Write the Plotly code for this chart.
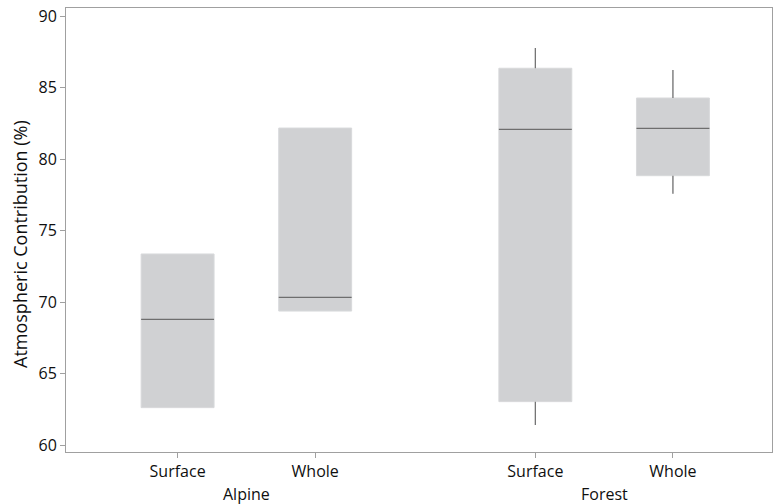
import plotly.graph_objects as go

# Data
groups = ["Alpine", "Alpine", "Forest", "Forest"]
parts = ["Surface", "Whole", "Surface", "Whole"]
q1 = [62.63, 69.38, 63.05, 78.84]
median = [68.80, 70.34, 82.08, 82.15]
q3 = [73.37, 82.17, 86.35, 84.27]
lower = [62.63, 69.38, 61.42, 77.58]
upper = [73.37, 82.17, 87.76, 86.23]
y_ticks = [60, 65, 70, 75, 80, 85, 90]
y_title = "Atmospheric Contribution (%)"

# Layout positions (Minitab-style grouped spacing)
positions = [1.0, 2.0, 3.6, 4.6]
box_w = 0.53

FILL = "#d0d1d3"
EDGE = "#d8d9db"
DARK = "#6e6e6e"
AXIS = "#a0a0a0"
TXT = "#0f0f0f"
FONT = "Open Sans"

fig = go.Figure()
for i in range(len(parts)):
    fig.add_trace(go.Box(
        x=[positions[i]], q1=[q1[i]], median=[median[i]], q3=[q3[i]],
        lowerfence=[lower[i]], upperfence=[upper[i]],
        width=box_w, fillcolor=FILL,
        line=dict(color=EDGE, width=1), whiskerwidth=0,
        boxpoints=False, showlegend=False, hoverinfo="skip",
    ))
    fig.add_trace(go.Scatter(
        x=[positions[i] - box_w / 2, positions[i] + box_w / 2],
        y=[median[i], median[i]], mode="lines",
        line=dict(color=DARK, width=1.2), showlegend=False, hoverinfo="skip"))
    if upper[i] > q3[i]:
        fig.add_trace(go.Scatter(
            x=[positions[i], positions[i]], y=[q3[i], upper[i]], mode="lines",
            line=dict(color=DARK, width=1.2), showlegend=False, hoverinfo="skip"))
    if lower[i] < q1[i]:
        fig.add_trace(go.Scatter(
            x=[positions[i], positions[i]], y=[lower[i], q1[i]], mode="lines",
            line=dict(color=DARK, width=1.2), showlegend=False, hoverinfo="skip"))

for g in ["Alpine", "Forest"]:
    xs = [positions[i] for i in range(len(groups)) if groups[i] == g]
    fig.add_annotation(x=sum(xs) / len(xs), y=0, xref="x", yref="paper",
                       yshift=-42, text=g, showarrow=False,
                       font=dict(family=FONT, size=16, color=TXT),
                       yanchor="middle")

fig.add_annotation(x=0, y=0.5, xref="paper", yref="paper", xshift=-46,
                   yshift=-14,
                   text=y_title, textangle=-90, showarrow=False,
                   font=dict(family=FONT, size=18, color=TXT),
                   xanchor="center", yanchor="middle")

fig.update_layout(
    width=776, height=504,
    margin=dict(l=66, r=4, t=8, b=52),
    paper_bgcolor="white", plot_bgcolor="white",
    font=dict(family=FONT, color=TXT),
)
fig.update_xaxes(
    range=[0.189, 5.32], tickvals=positions, ticktext=parts,
    ticks="outside", ticklen=5, tickcolor=AXIS, automargin=False,
    showline=True, linecolor=AXIS, linewidth=1, mirror=True,
    showgrid=False, zeroline=False,
    tickfont=dict(family=FONT, size=16, color=TXT),
)
fig.update_yaxes(
    range=[59.53, 90.56], tickvals=y_ticks,
    ticks="outside", ticklen=5, tickcolor=AXIS, automargin=False,
    showline=True, linecolor=AXIS, linewidth=1, mirror=True,
    showgrid=False, zeroline=False,
    tickfont=dict(family=FONT, size=16, color=TXT),
)

fig.write_html(
    "out.html",
    config={"responsive": False, "displayModeBar": False},
    post_script="document.body.style.margin='0';document.body.style.padding='0';"
                "document.body.style.overflow='hidden';",
)
